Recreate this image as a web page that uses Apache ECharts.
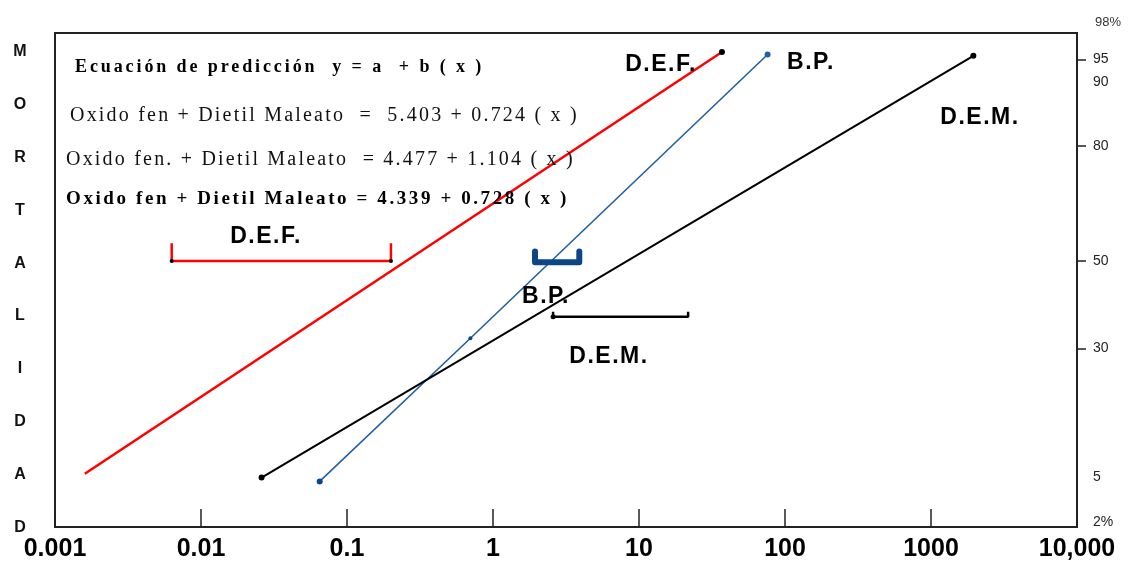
<!DOCTYPE html>
<html><head><meta charset="utf-8">
<script src="https://cdn.jsdelivr.net/npm/echarts@6/dist/echarts.min.js"></script>
<style>html,body{margin:0;padding:0;background:#fff}#c{width:1128px;height:562px}</style>
</head><body><div id="c"></div>
<script>
// letter spacing for the spaced-out texts of the original
(function () {
  var P = window.CanvasRenderingContext2D && CanvasRenderingContext2D.prototype;
  if (!P) return;
  var d = Object.getOwnPropertyDescriptor(P, 'font');
  if (!d || !d.set || !('letterSpacing' in P)) return;
  var SP = { 'Serif|b18': '2.9px', 'Serif|r20': '2.2px', 'Serif|b19': '2.6px', 'Sans|b23': '1.5px' };
  Object.defineProperty(P, 'font', {
    configurable: true, enumerable: d.enumerable,
    get: function () { return d.get.call(this); },
    set: function (v) {
      d.set.call(this, v);
      var s = String(v);
      var m = s.match(/(\d+(?:\.\d+)?)px/);
      var fam = s.indexOf('Serif') >= 0 ? 'Serif' : 'Sans';
      var key = fam + '|' + (/bold/.test(s) ? 'b' : 'r') + (m ? m[1] : '');
      try { this.letterSpacing = SP[key] || '0px'; } catch (e) {}
    }
  });
})();

// ---- data (dose on log scale, mortality on probit scale) ----
var xTickLabels = ['0.001', '0.01', '0.1', '1', '10', '100', '1000', '10,000'];
var mortalityLabels = ['2%', '5', '30', '50', '80', '90', '95'];
var mortalityProbit = [2.94, 3.29, 4.31, 5.0, 5.91, 6.41, 6.59];
var tickedProbit = [4.31, 5.0, 5.91, 6.59];
var topMortalityLabel = '98%';

var defDose = [0.0016, 37];
var defProbit = [3.32, 6.65];
var bpDose = [0.065, 0.70, 76];
var bpProbit = [3.26, 4.39, 6.63];
var demDose = [0.026, 1950];
var demProbit = [3.29, 6.62];

var defLimits = [0.0063, 0.2];
var defLimitLevel = 5.0;
var defLimitTop = 5.14;
var bpLimits = [1.94, 3.9];
var bpLimitLevel = 4.99;
var bpLimitTop = 5.075;
var demLimits = [2.58, 21.7];
var demLimitLevel = 4.56;
var demLimitTop = 4.6;

var equationTitle = 'Ecuación de predicción  y = a  + b ( x )';
var equations = [
  'Oxido fen + Dietil Maleato  =  5.403 + 0.724 ( x )',
  'Oxido fen. + Dietil Maleato  = 4.477 + 1.104 ( x )',
  'Oxido fen + Dietil Maleato = 4.339 + 0.728 ( x )'
];
var yTitle = 'MORTALIDAD';

// ---- build ----
function pts(xs, ys) { return xs.map(function (x, i) { return [x, ys[i]]; }); }
function bracket(lims, level, top) {
  return [[lims[0], top], [lims[0], level], [lims[1], level], [lims[1], top]];
}
function withSymbols(data, sizes, colors) {
  return data.map(function (p, i) {
    var o = { value: p };
    if (!sizes[i]) { o.symbol = 'none'; }
    else { o.symbol = 'circle'; o.symbolSize = sizes[i]; o.itemStyle = { color: colors[i] }; }
    return o;
  });
}

var RED = '#ff0000', BLUE = '#2260a0', DARKBLUE = '#0c4686', BLACK = '#000000';

var series = [
  { name: 'D.E.F.', type: 'line', data: withSymbols(pts(defDose, defProbit), [0, 6], [RED, BLACK]),
    lineStyle: { color: RED, width: 2.5 } },
  { name: 'B.P.', type: 'line', data: withSymbols(pts(bpDose, bpProbit), [6, 4, 6], [DARKBLUE, DARKBLUE, BLUE]),
    lineStyle: { color: BLUE, width: 1.6 } },
  { name: 'D.E.M.', type: 'line', data: withSymbols(pts(demDose, demProbit), [6, 6], [BLACK, BLACK]),
    lineStyle: { color: BLACK, width: 2 } },
  { name: 'D.E.F. limits', type: 'line', data: withSymbols(bracket(defLimits, defLimitLevel, defLimitTop), [0, 4, 4, 0], [RED, BLACK, BLACK, RED]),
    lineStyle: { color: RED, width: 2.5 } },
  { name: 'B.P. limits', type: 'line', data: withSymbols(bracket(bpLimits, bpLimitLevel, bpLimitTop), [0, 0, 0, 0], []),
    lineStyle: { color: DARKBLUE, width: 6, cap: 'round', join: 'round' } },
  { name: 'D.E.M. limits', type: 'line', data: withSymbols(bracket(demLimits, demLimitLevel, demLimitTop), [0, 5, 0, 0], [BLACK, BLACK, BLACK, BLACK]),
    lineStyle: { color: BLACK, width: 2.5 } }
];
series.forEach(function (s) { s.silent = true; s.animation = false; s.z = 3; });

function txt(text, x, y, o) {
  var st = {
    text: text, fill: o.color || '#000',
    fontFamily: o.family || 'Liberation Sans', fontSize: o.size, fontWeight: o.weight || 'normal',
    align: o.align || 'left', textAlign: o.align || 'left',
    verticalAlign: o.va || 'middle', textVerticalAlign: o.va || 'middle'
  };
  if (o.lineHeight) st.lineHeight = o.lineHeight;
  return { type: 'text', x: x, y: y, z: 10, silent: true, style: st };
}

var graphic = [
  txt(equationTitle, 75, 67, { family: 'Liberation Serif', size: 18, weight: 'bold' }),
  txt(equations[0], 70, 116, { family: 'Liberation Serif', size: 20, color: '#111' }),
  txt(equations[1], 66, 160, { family: 'Liberation Serif', size: 20, color: '#111' }),
  txt(equations[2], 66, 199, { family: 'Liberation Serif', size: 19, weight: 'bold' }),
  txt('D.E.F.', 661, 65, { size: 23, weight: 'bold', align: 'center' }),
  txt('B.P.', 811, 63, { size: 23, weight: 'bold', align: 'center' }),
  txt('D.E.M.', 980, 118, { size: 23, weight: 'bold', align: 'center' }),
  txt('D.E.F.', 266, 237, { size: 23, weight: 'bold', align: 'center' }),
  txt('B.P.', 546, 297, { size: 23, weight: 'bold', align: 'center' }),
  txt('D.E.M.', 609, 357, { size: 23, weight: 'bold', align: 'center' }),
  txt(yTitle.split('').join('\n'), 20, 25.6, { size: 16, weight: 'bold', align: 'center', va: 'top', lineHeight: 52.8, color: '#111' })
];

var chart = echarts.init(document.getElementById('c'), null, { renderer: 'canvas' });
chart.setOption({
  animation: false,
  backgroundColor: '#fff',
  grid: { left: 55, right: 51, top: 33, bottom: 34, show: true, borderColor: '#222', borderWidth: 2, backgroundColor: 'transparent' },
  xAxis: {
    type: 'log', logBase: 10, min: 0.001, max: 10000, splitNumber: 7,
    axisLine: { show: true, lineStyle: { color: '#222', width: 2 } },
    axisTick: { show: true, inside: true, length: 18, lineStyle: { color: '#222', width: 1.5 } },
    minorTick: { show: false }, splitLine: { show: false },
    axisLabel: {
      margin: 10, color: '#000', fontFamily: 'Liberation Sans', fontWeight: 'bold', fontSize: 25,
      formatter: function (v) { var i = Math.round(Math.log10(v)) + 3; return xTickLabels[i] || ''; }
    }
  },
  yAxis: {
    type: 'value', position: 'right', min: 2.9, max: 6.8,
    name: topMortalityLabel, nameLocation: 'end', nameGap: 11,
    nameTextStyle: { color: '#333', fontFamily: 'Liberation Sans', fontSize: 13, align: 'left', verticalAlign: 'middle', padding: [0, 0, 0, 18] },
    axisLine: { show: true, lineStyle: { color: '#222', width: 2 } },
    axisTick: { show: true, inside: false, length: 9, customValues: tickedProbit, lineStyle: { color: '#222', width: 1.5 } },
    splitLine: { show: false },
    axisLabel: {
      margin: 16, color: '#222', fontFamily: 'Liberation Sans', fontSize: 14,
      customValues: mortalityProbit,
      formatter: function (v) {
        for (var i = 0; i < mortalityProbit.length; i++) if (Math.abs(mortalityProbit[i] - v) < 1e-6) return mortalityLabels[i];
        return '';
      }
    }
  },
  series: series,
  graphic: graphic
});
</script>
</body></html>
